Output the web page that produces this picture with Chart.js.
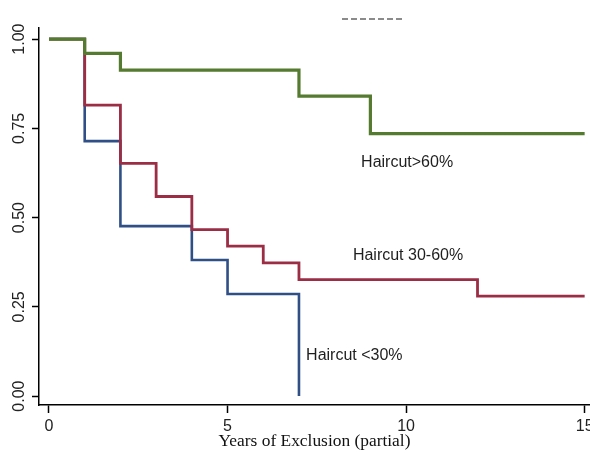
<!DOCTYPE html>
<html>
<head>
<meta charset="utf-8">
<script src="https://cdn.jsdelivr.net/npm/chart.js@4/dist/chart.umd.min.js"></script>
<style>
  html, body { margin: 0; padding: 0; background: #fff; }
  #wrap { width: 590px; height: 453px; position: relative; }
</style>
</head>
<body>
<div id="wrap"><canvas id="kmChart"></canvas></div>
<script>
// years at which the survival estimate changes, and the estimate after the change
let greenYears = [0, 1, 2, 7, 9, 15];
let greenSurv = [1, 0.96, 0.913, 0.84, 0.735, 0.735];

let redYears = [0, 1, 2, 3, 4, 5, 6, 7, 12, 15];
let redSurv = [1, 0.815, 0.652, 0.559, 0.466, 0.42, 0.373, 0.326, 0.28, 0.28];

let blueYears = [0, 1, 2, 4, 5, 7];
let blueSurv = [1, 0.714, 0.476, 0.381, 0.286, 0];

let xTicks = [0, 5, 10, 15];
let yTicks = [0, 0.25, 0.5, 0.75, 1];

let curveLabels = ['Haircut>60%', 'Haircut 30-60%', 'Haircut <30%'];
let xTitle = 'Years of Exclusion (partial)';

function toPoints(xs, ys) {
    return xs.map(function (x, i) {
        return { x: x, y: ys[i] };
    });
}

// curve labels, anchored in data units (left edge, baseline)
let labelSpots = [
    { text: curveLabels[0], x: 8.74, y: 0.643 },
    { text: curveLabels[1], x: 8.51, y: 0.382 },
    { text: curveLabels[2], x: 7.2, y: 0.102 }
];

let annotations = {
    id: 'annotations',
    afterDatasetsDraw: function (chart) {
        var ctx = chart.ctx;
        var xs = chart.scales.x;
        var ys = chart.scales.y;
        ctx.save();
        ctx.fillStyle = '#1e1e1e';
        ctx.font = '16px "Liberation Sans", Arial, sans-serif';
        ctx.textBaseline = 'alphabetic';
        ctx.textAlign = 'left';
        labelSpots.forEach(function (s) {
            ctx.fillText(s.text, xs.getPixelForValue(s.x), ys.getPixelForValue(s.y));
        });
        // leftover dashed legend key at the top
        ctx.strokeStyle = '#666';
        ctx.lineWidth = 1.5;
        ctx.setLineDash([6, 3]);
        ctx.beginPath();
        ctx.moveTo(342, 19);
        ctx.lineTo(404, 19);
        ctx.stroke();
        ctx.restore();
    }
};

let ctx = document.getElementById('kmChart').getContext('2d');
let myChart = new Chart(ctx, {
    type: 'line',
    data: {
        datasets: [{
            label: curveLabels[0],
            data: toPoints(greenYears, greenSurv),
            borderColor: '#557b30',
            borderWidth: 3.2
        }, {
            label: curveLabels[1],
            data: toPoints(redYears, redSurv),
            borderColor: '#9b2d45',
            borderWidth: 2.8
        }, {
            label: curveLabels[2],
            data: toPoints(blueYears, blueSurv),
            borderColor: '#2f4f86',
            borderWidth: 2.6
        }]
    },
    options: {
        responsive: true,
        maintainAspectRatio: false,
        animation: false,
        layout: { padding: { top: 28, right: 0, left: 0, bottom: 0 } },
        elements: {
            line: { stepped: true, tension: 0, fill: false },
            point: { radius: 0 }
        },
        plugins: {
            legend: { display: false },
            tooltip: { enabled: false }
        },
        scales: {
            x: {
                type: 'linear',
                min: -0.28,
                max: 15.15,
                afterBuildTicks: function (scale) {
                    scale.ticks = xTicks.map(function (v) { return { value: v }; });
                },
                afterFit: function (scale) {
                    scale.height = 48;
                    scale.paddingLeft = 0;
                    scale.paddingRight = 0;
                },
                grid: {
                    drawOnChartArea: false,
                    drawTicks: true,
                    tickLength: 8,
                    tickColor: '#000',
                    tickWidth: 1.5
                },
                border: { color: '#000', width: 1.5 },
                ticks: {
                    padding: 4,
                    color: '#222',
                    maxRotation: 0,
                    font: { family: '"Liberation Sans", Arial, sans-serif', size: 16 }
                },
                title: {
                    display: true,
                    text: xTitle,
                    color: '#111',
                    padding: { top: 0, bottom: 3 },
                    font: { family: '"Liberation Serif", "Times New Roman", serif', size: 17.4, lineHeight: 1 }
                }
            },
            y: {
                type: 'linear',
                min: -0.025,
                max: 1.031,
                afterBuildTicks: function (scale) {
                    scale.ticks = yTicks.map(function (v) { return { value: v }; });
                },
                afterFit: function (scale) {
                    scale.width = 39;
                    scale.paddingTop = 0;
                    scale.paddingBottom = 0;
                },
                grid: {
                    drawOnChartArea: false,
                    drawTicks: true,
                    tickLength: 7,
                    tickColor: '#000',
                    tickWidth: 1.5
                },
                border: { color: '#000', width: 1.5 },
                ticks: {
                    minRotation: 90,
                    maxRotation: 90,
                    crossAlign: 'center',
                    padding: -3,
                    color: '#222',
                    font: { family: '"Liberation Sans", Arial, sans-serif', size: 16 },
                    callback: function (v) { return Number(v).toFixed(2); }
                }
            }
        }
    },
    plugins: [annotations]
});
</script>
</body>
</html>
